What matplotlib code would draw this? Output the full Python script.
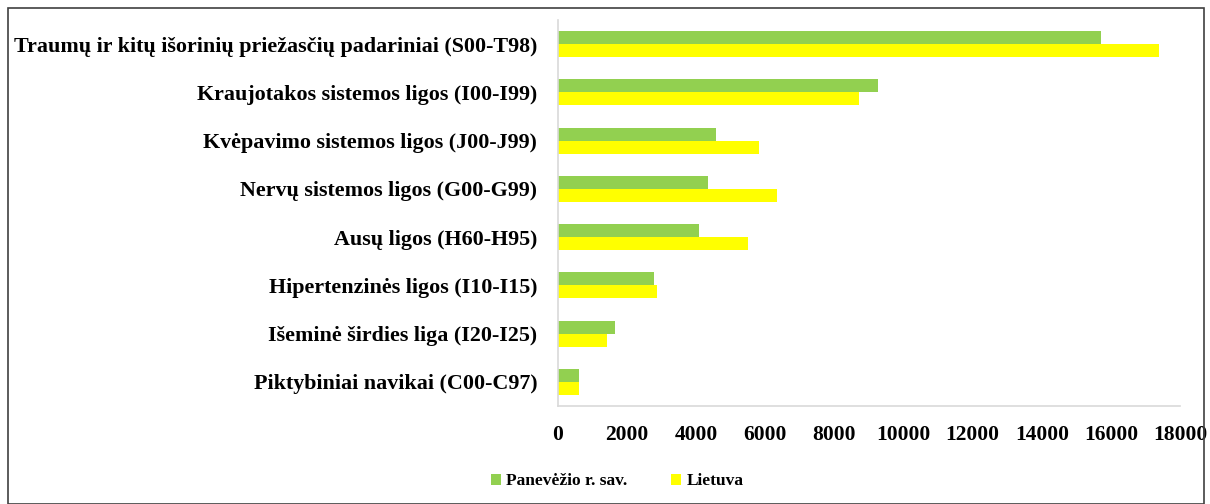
import matplotlib
matplotlib.use("Agg")
import matplotlib.pyplot as plt
import numpy as np
from matplotlib.patches import Rectangle

categories = [
    "Traumų ir kitų išorinių priežasčių padariniai (S00-T98)",
    "Kraujotakos sistemos ligos (I00-I99)",
    "Kvėpavimo sistemos ligos (J00-J99)",
    "Nervų sistemos ligos (G00-G99)",
    "Ausų ligos (H60-H95)",
    "Hipertenzinės ligos (I10-I15)",
    "Išeminė širdies liga (I20-I25)",
    "Piktybiniai navikai (C00-C97)",
]
panevezio = [15700, 9250, 4560, 4350, 4080, 2790, 1650, 600]
lietuva = [17400, 8700, 5810, 6350, 5500, 2860, 1430, 600]
series_names = ["Panevėžio r. sav.", "Lietuva"]
xticks = [0, 2000, 4000, 6000, 8000, 10000, 12000, 14000, 16000, 18000]

plt.rcParams['font.family'] = ['Liberation Serif', 'DejaVu Serif']
plt.rcParams['font.weight'] = 'bold'

fig = plt.figure(figsize=(12.1, 5.04), dpi=100)
ax = fig.add_axes([0.4612, 0.1944, 0.514, 0.7659])

y = np.arange(len(categories))
h = 0.27
ax.barh(y - h/2, panevezio, height=h, color="#92D050", label=series_names[0])
ax.barh(y + h/2, lietuva, height=h, color="#FFFF00", label=series_names[1])

ax.set_ylim(len(categories) - 0.5, -0.5)
ax.set_xlim(0, 18000)
ax.set_xticks(xticks)
ax.set_xticklabels([str(t) for t in xticks], fontsize=15.5, fontweight='bold')
ax.set_yticks(y)
ax.set_yticklabels(categories, fontsize=15.8, fontweight='bold')
ax.tick_params(axis='x', length=0, pad=14)
ax.tick_params(axis='y', length=0, pad=15)
for s in ['top', 'right']:
    ax.spines[s].set_visible(False)
for s in ['left', 'bottom']:
    ax.spines[s].set_color('#D9D9D9')
    ax.spines[s].set_linewidth(1.2)

fig.legend(loc='center', bbox_to_anchor=(0.51, 0.045), ncol=2, frameon=False,
           handlelength=0.6, handleheight=0.6, handletextpad=0.3,
           columnspacing=2.5, prop={'weight': 'bold', 'size': 12.5})

fig.patches.append(Rectangle((8/1210, 0.0), 1196/1210, 496/504, transform=fig.transFigure,
                             fill=False, edgecolor='#404040', linewidth=1.2))

fig.savefig("out.png", dpi=100)
